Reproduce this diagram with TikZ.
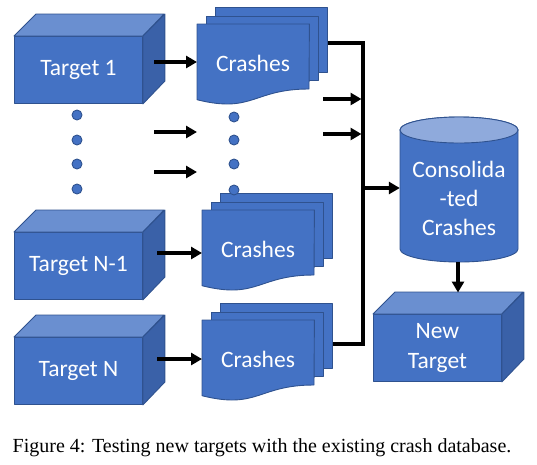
\documentclass[tikz,border=0pt]{standalone}
\usepackage{fontspec}
\setmainfont{Carlito}
\newfontfamily\capfont{Liberation Serif}
\usetikzlibrary{arrows.meta,calc}
\definecolor{fblue}{HTML}{4472C4}
\definecolor{eblue}{HTML}{2F528F}
\definecolor{tblue}{HTML}{6A8FD0}
\definecolor{sblue}{HTML}{3A61A8}
\definecolor{cyltop}{HTML}{8FAADC}
\newcommand\cubeshape[4]{%
  \node[front] (#1) at (#2,#3) {#4};
  \draw[topface] (#1.north west) -- ++(22,-22) -- ++(128,0) -- (#1.north east) -- cycle;
  \draw[sideface] (#1.north east) -- ++(22,-22) -- ++(0,67) -- (#1.south east) -- cycle;
}
\newcommand\crashstack[4]{%
  \node[page, minimum height=65pt] (#1c) at (#2+18,#3-17) {};
  \node[page, minimum height=64.5pt] (#1b) at (#2+9,#3-8.5) {};
  \node[inner sep=0pt, minimum width=112pt, minimum height=76pt, anchor=north west] (#1) at (#2,#3) {};
  \draw[face] (#1.north west) -- (#1.north east) -- (#2+112,#3+65)
     .. controls (#2+56,#3+65) and (#2+56,#3+89.7) .. (#2,#3+75.7) -- cycle;
  \node[lbl] (#1t) at (#2+56,#3+39) {#4};
}
\begin{document}
\begin{tikzpicture}[x=1pt,y=-1pt,
  face/.style={fill=fblue,draw=eblue,line width=0.9pt,line join=round},
  topface/.style={fill=tblue,draw=eblue,line width=0.9pt,line join=round},
  sideface/.style={fill=sblue,draw=eblue,line width=0.9pt,line join=round},
  front/.style={face, rectangle, inner sep=0pt, minimum width=128pt, minimum height=67pt, anchor=north west, text=white, font=\fontsize{23.5}{28}\selectfont, align=center},
  page/.style={face, rectangle, inner sep=0pt, anchor=north west, minimum width=112pt},
  lbl/.style={text=white, font=\fontsize{23.5}{29}\selectfont, align=center, inner sep=0pt},
  arr/.style={line width=3.5pt, -{Triangle[length=11pt,width=12pt]}},
  bus/.style={line width=3.5pt},
  dot/.style={circle, fill=fblue, draw=eblue, line width=0.9pt, inner sep=0pt, minimum size=10pt}
]
\useasboundingbox (0,0) rectangle (537,464);

% targets
\cubeshape{t1}{14}{36}{Target 1}
\cubeshape{tn1}{14}{232}{Target N-1}
\cubeshape{tn}{14}{337}{Target N}
\cubeshape{nt}{373}{314}{New\\[2pt]Target}

% crash stacks
\crashstack{c1}{197}{24}{Crashes}
\crashstack{cn1}{202}{210}{Crashes}
\crashstack{cn}{202}{320}{Crashes}

% dots
\foreach \y [count=\i] in {115,140,164,189} \node[dot] (da\i) at (77,\y) {};
\foreach \y [count=\i] in {117,140,164,190} \node[dot] (db\i) at (234,\y) {};

% cylinder
\node[inner sep=0pt, minimum width=118pt, minimum height=145pt] (cyl) at (459,189.5) {};
\draw[face] (400,130) -- (400,249) arc[start angle=180, end angle=360, x radius=59pt, y radius=13pt]
   -- (518,130) arc[start angle=0, end angle=180, x radius=59pt, y radius=13pt] -- cycle;
\draw[fill=cyltop, draw=eblue, line width=0.9pt] (459,130) ellipse[x radius=59pt, y radius=13pt];
\node[lbl] (cylt) at (459,198) {Consolida\\-ted\\Crashes};

% arrows target -> crashes
\coordinate (s1) at (154,62);
\coordinate (s2) at (157,253);
\coordinate (s3) at (157,359);
\draw[arr] (s1) -- (c1.west |- s1);
\draw[arr] (s2) -- (cn1.west |- s2);
\draw[arr] (s3) -- (cn.west |- s3);

% middle free arrows
\coordinate (m1) at (154,132); \coordinate (m1e) at (197,132);
\coordinate (m2) at (154,172); \coordinate (m2e) at (197,172);
\draw[arr] (m1) -- (m1e);
\draw[arr] (m2) -- (m2e);

% bus
\coordinate (bustop) at (363,43);
\coordinate (busbot) at (363,344);
\draw[bus] (c1c.east |- bustop) -- (bustop) -- (busbot) -- (cnc.east |- busbot);
\coordinate (r1) at (323,99);
\coordinate (r2) at (323,134);
\draw[arr] (r1) -- ([xshift=-1.5pt]bustop |- r1);
\draw[arr] (r2) -- ([xshift=-1.5pt]bustop |- r2);
\coordinate (bc) at (363,188);
\draw[arr] (bc) -- (cyl.west |- bc);

% cylinder -> new target
\coordinate (ntback) at (458,292.5);
\draw[arr] (cyl.south -| ntback) -- (ntback);

% caption
\node[font=\capfont\fontsize{20}{24}\selectfont, anchor=base, inner sep=0pt] (cap) at (262,452) {Figure 4: Testing new targets with the existing crash database.};
\end{tikzpicture}
\end{document}
